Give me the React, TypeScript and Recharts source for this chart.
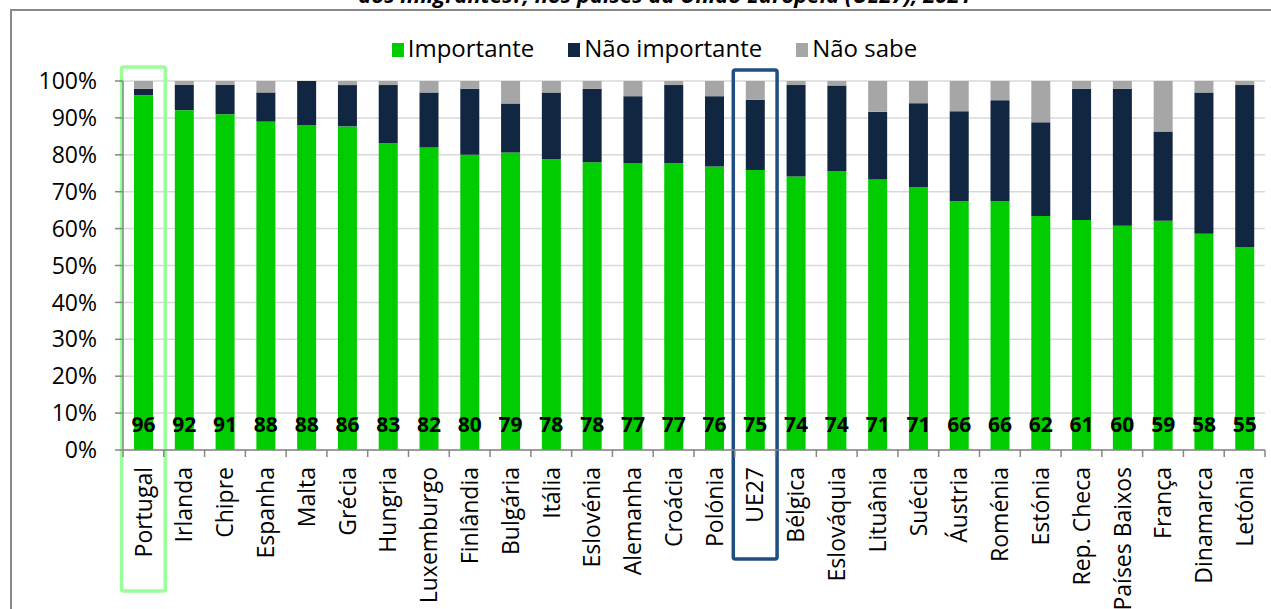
import React from 'react';
import { BarChart, Bar, XAxis, YAxis, CartesianGrid, LabelList, ReferenceArea } from 'recharts';

const PAISES = [
  'Portugal', 'Irlanda', 'Chipre', 'Espanha', 'Malta', 'Grécia', 'Hungria', 'Luxemburgo',
  'Finlândia', 'Bulgária', 'Itália', 'Eslovénia', 'Alemanha', 'Croácia', 'Polónia', 'UE27',
  'Bélgica', 'Eslováquia', 'Lituânia', 'Suécia', 'Áustria', 'Roménia', 'Estónia', 'Rep. Checa',
  'Países Baixos', 'França', 'Dinamarca', 'Letónia',
];

// % de respostas
const IMPORTANTE = [
  96.1, 92.1, 91.0, 89.0, 88.0, 87.7, 83.1, 82.0, 80.0, 80.6, 78.8, 78.0, 77.8, 77.7,
  76.8, 75.9, 74.1, 75.6, 73.3, 71.2, 67.4, 67.4, 63.4, 62.3, 60.8, 62.1, 58.6, 55.0,
];
const NAO_IMPORTANTE = [
  1.8, 6.9, 8.0, 7.9, 12.0, 11.2, 15.8, 14.9, 17.9, 13.3, 18.1, 19.9, 18.1, 21.2,
  19.1, 19.0, 24.8, 23.2, 18.4, 22.8, 24.4, 27.4, 25.4, 35.6, 37.1, 24.2, 38.3, 43.9,
];
const NAO_SABE = [
  2.1, 1.0, 1.0, 3.1, 0, 1.1, 1.1, 3.1, 2.1, 6.1, 3.1, 2.1, 4.1, 1.1,
  4.1, 5.1, 1.1, 1.2, 8.3, 6.0, 8.2, 5.2, 11.2, 2.1, 2.1, 13.7, 3.1, 1.1,
];
// rótulos publicados (valores arredondados)
const ROTULOS = [
  96, 92, 91, 88, 88, 86, 83, 82, 80, 79, 78, 78, 77, 77,
  76, 75, 74, 74, 71, 71, 66, 66, 62, 61, 60, 59, 58, 55,
];
const Y_TICKS = [0, 10, 20, 30, 40, 50, 60, 70, 80, 90, 100];

const SERIES = [
  { key: 'importante', nome: 'Importante', cor: '#00cc00' },
  { key: 'naoImportante', nome: 'Não importante', cor: '#112641' },
  { key: 'naoSabe', nome: 'Não sabe', cor: '#a6a6a6' },
];

const DESTAQUES = [
  { pais: 'Portugal', cor: '#99ff99', acima: 14, abaixo: 141 },
  { pais: 'UE27', cor: '#1f4e80', acima: 11, abaixo: 109 },
];

const TITULO = 'dos imigrantes?, nos países da União Europeia (UE27), 2021';

const W = 1271;
const H = 609;
const MARGIN = { top: 81, right: 6, bottom: 0, left: 0 };
const Y_AXIS_W = 123;
const X_AXIS_H = 159;
const BAND = (W - MARGIN.left - MARGIN.right - Y_AXIS_W) / PAISES.length;
const FONT = '"Open Sans", sans-serif';
const AXIS = '#868686';

const data = PAISES.map((pais, i) => ({
  pais,
  importante: IMPORTANTE[i],
  naoImportante: NAO_IMPORTANTE[i],
  naoSabe: NAO_SABE[i],
  rotulo: ROTULOS[i],
}));

const PaisTick = (props: any) => {
  const { x, y, payload, index } = props;
  const last = index === PAISES.length - 1;
  return (
    <g>
      <line x1={x - BAND / 2} x2={x - BAND / 2} y1={y} y2={y + 7} stroke={AXIS} strokeWidth={1.5} />
      {last && <line x1={x + BAND / 2} x2={x + BAND / 2} y1={y} y2={y + 7} stroke={AXIS} strokeWidth={1.5} />}
      <text
        transform={`translate(${x},${y + 17}) rotate(-90)`}
        textAnchor="end"
        dy="0.36em"
        fontSize={23}
        fontFamily={FONT}
        fill="#000"
      >
        {payload.value}
      </text>
    </g>
  );
};

const Rotulo = (props: any) => {
  const { x, y, width, height, value } = props;
  return (
    <text
      x={x + width / 2}
      y={y + height - 18}
      textAnchor="middle"
      fontSize={21}
      fontWeight="bold"
      fontFamily={FONT}
      fill="#000"
    >
      {value}
    </text>
  );
};

const Caixa = (cor: string, acima: number, abaixo: number) => (props: any) => {
  const { x, y, width, height } = props;
  return (
    <rect
      x={x - 1.5}
      y={y - acima}
      width={width + 3}
      height={height + acima + abaixo}
      rx={2}
      fill="none"
      stroke={cor}
      strokeWidth={3.5}
    />
  );
};

export default function App() {
  return (
    <div style={{ position: 'absolute', left: 0, top: 0, width: W, height: H, overflow: 'hidden', background: '#fff' }}>
      <svg width={W} height={20} style={{ position: 'absolute', left: 0, top: 0 }}>
        <text x={665} y={3} textAnchor="middle" fontSize={22} fontWeight="bold" fontStyle="italic" fontFamily={FONT} fill="#000">
          {TITULO}
        </text>
      </svg>
      <div
        style={{
          position: 'absolute',
          left: 10,
          top: 9,
          width: W + 40,
          height: H + 40,
          border: '2px solid #898989',
          boxSizing: 'border-box',
        }}
      />
      <div style={{ position: 'absolute', left: 0, top: 0 }}>
        <BarChart width={W} height={H} data={data} margin={MARGIN} barCategoryGap="27%">
          <CartesianGrid vertical={false} stroke="#d9d9d9" strokeWidth={1.5} />
          <XAxis
            dataKey="pais"
            interval={0}
            height={X_AXIS_H}
            tickSize={0}
            tickMargin={0}
            tickLine={false}
            axisLine={{ stroke: AXIS, strokeWidth: 1.5 }}
            tick={<PaisTick />}
          />
          <YAxis
            width={Y_AXIS_W}
            domain={[0, 100]}
            ticks={Y_TICKS}
            allowDataOverflow
            tickFormatter={(v) => `${v}%`}
            tickSize={8}
            tickMargin={18}
            tickLine={{ stroke: AXIS, strokeWidth: 1.5 }}
            axisLine={{ stroke: AXIS, strokeWidth: 1.5 }}
            tick={{ fontSize: 23, fill: '#000', fontFamily: FONT }}
          />
          {SERIES.map((s) => (
            <Bar key={s.key} dataKey={s.key} name={s.nome} stackId="a" fill={s.cor} isAnimationActive={false}>
              {s.key === 'importante' && <LabelList dataKey="rotulo" content={<Rotulo />} />}
            </Bar>
          ))}
          {DESTAQUES.map((d) => (
            <ReferenceArea
              key={d.pais}
              x1={d.pais}
              x2={d.pais}
              ifOverflow="visible"
              shape={Caixa(d.cor, d.acima, d.abaixo)}
            />
          ))}
        </BarChart>
      </div>
      <div
        style={{
          position: 'absolute',
          left: 0,
          top: 36,
          width: 1309,
          display: 'flex',
          justifyContent: 'center',
          fontFamily: FONT,
          fontSize: 24,
          lineHeight: '24px',
          color: '#000',
        }}
      >
        {SERIES.map((s, i) => (
          <div key={s.key} style={{ display: 'flex', alignItems: 'flex-start', marginLeft: i === 0 ? 0 : 34 }}>
            <div style={{ width: 12, height: 14, background: s.cor, marginTop: 7, marginRight: 4 }} />
            <span>{s.nome}</span>
          </div>
        ))}
      </div>
    </div>
  );
}
